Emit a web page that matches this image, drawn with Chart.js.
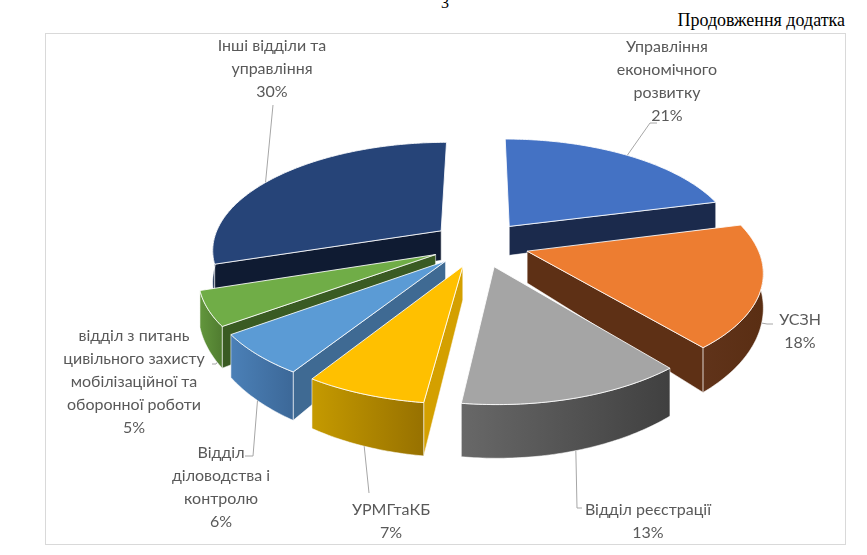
<!DOCTYPE html>
<html>
<head>
<meta charset="utf-8">
<script src="https://cdn.jsdelivr.net/npm/chart.js@4.4.1/dist/chart.umd.min.js"></script>
<style>
    html, body { margin: 0; padding: 0; background: #fff; }
    body { width: 867px; height: 555px; position: relative; overflow: hidden; }
    .page { position: absolute; font-family: "Liberation Serif", "Times New Roman", serif; color: #000; white-space: nowrap; }
    #frame { position: absolute; left: 45px; top: 33px; width: 801px; height: 512px; border: 1px solid #d9d9d9; box-sizing: border-box; }
    #pie { position: absolute; left: 0; top: 0; }
</style>
</head>
<body>
<div class="page" style="left:441px; top:-5px; font-size:16px; line-height:16px;">3</div>
<div class="page" style="right:22px; top:10px; font-size:18px; line-height:20px;">Продовження додатка</div>
<div id="frame"></div>
<canvas id="pie" width="867" height="555"></canvas>
<script>
// data
const categories = [
    'Управління економічного розвитку',
    'УСЗН',
    'Відділ реєстрації',
    'УРМГтаКБ',
    'Відділ діловодства і контролю',
    'відділ з питань цивільного захисту мобілізаційної та оборонної роботи',
    'Інші відділи та управління'
];
const shares = [21, 18, 13, 7, 6, 5, 30];
const labelLines = [
    ['Управління', 'економічного', 'розвитку'],
    ['УСЗН'],
    ['Відділ реєстрації'],
    ['УРМГтаКБ'],
    ['Відділ', 'діловодства і', 'контролю'],
    ['відділ з питань', 'цивільного захисту', 'мобілізаційної та', 'оборонної роботи'],
    ['Інші відділи та', 'управління']
];

// Office palette: top face, outer wall (gradient), radial wall
const topColors = ['#4472C4', '#ED7D31', '#A5A5A5', '#FFC000', '#5B9BD5', '#70AD47', '#264478'];
const wallColors = [
    ['#22386a', '#1b2c50'], ['#60331a', '#5a2e13'], ['#686868', '#404040'], ['#c59a00', '#977100'],
    ['#4b80b7', '#3c6898'], ['#62963c', '#507c30'], ['#1a2f55', '#13223f']
];
const radialColors = ['#1b2a4c', '#5e3015', '#444444', '#d4a000', '#3f6a93', '#3a5b23', '#0f1b32'];

// label layout (centre x, first line y) and leader start points
const labelAt = [[667, 47], [800, 320], [648, 510], [391, 510], [221, 453], [134, 336], [272, 46]];
const leaderFrom = [
    [[657, 123], [650, 123]],
    [[773, 324], [767, 324]],
    [[582, 508], [577, 508]],
    [[369, 493]],
    [[245, 456], [253, 456]],
    [[212, 364], [216, 364]],
    [[273, 105]]
];
const anchorFrac = [0.5, 0.5, 0.5, 0.5, 0.5, 0.15, 0.45];
const lineStep = 23;

// 3D look
const view = { tilt: 0.467, dist: 1400, depth: 31, explode: 49 };

function project(s, p, withDepth) {
    const k = view.dist / (view.dist - p[1]);
    let y = s.cy + view.tilt * p[1] * k;
    if (withDepth) y += view.depth * Math.pow(k, 2.5);
    return [s.cx + p[0] * k, y];
}

function tracePath(ctx, pts) {
    ctx.beginPath();
    pts.forEach((p, i) => i ? ctx.lineTo(p[0], p[1]) : ctx.moveTo(p[0], p[1]));
    ctx.closePath();
}

function rimPoints(s, a0, a1) {
    const n = Math.max(4, Math.ceil((a1 - a0) / 0.015));
    const pts = [];
    for (let j = 0; j <= n; j++) {
        const a = a0 + (a1 - a0) * j / n;
        pts.push([s.ou + Math.cos(a) * s.r, s.ov + Math.sin(a) * s.r]);
    }
    return pts;
}

function sliceGeom(el, i) {
    const { x, y, startAngle, endAngle, outerRadius } =
        el.getProps(['x', 'y', 'startAngle', 'endAngle', 'outerRadius'], true);
    const mid = (startAngle + endAngle) / 2;
    const s = {
        i, cx: x, cy: y, r: outerRadius, startAngle, endAngle,
        ou: Math.cos(mid) * view.explode,
        ov: Math.sin(mid) * view.explode
    };
    s.rim = rimPoints(s, startAngle, endAngle);
    return s;
}

function drawSlice(ctx, s) {
    const c = [s.ou, s.ov];
    ctx.save();
    ctx.lineJoin = 'round';
    ctx.strokeStyle = 'rgba(255,255,255,0.7)';
    ctx.lineWidth = 0.8;

    // radial walls, only the ones facing the viewer
    const walls = [];
    if (-Math.cos(s.startAngle) > 0) walls.push(s.rim[0]);
    if (Math.cos(s.endAngle) > 0) walls.push(s.rim[s.rim.length - 1]);
    walls.forEach(p => {
        tracePath(ctx, [project(s, c), project(s, p), project(s, p, true), project(s, c, true)]);
        ctx.fillStyle = radialColors[s.i];
        ctx.fill();
        ctx.stroke();
    });

    // outer wall, front half only
    const a0 = Math.max(s.startAngle, 0);
    const a1 = Math.min(s.endAngle, Math.PI);
    if (a1 > a0) {
        const front = rimPoints(s, a0, a1);
        const tp = front.map(p => project(s, p));
        const bp = front.map(p => project(s, p, true));
        tracePath(ctx, tp.concat(bp.slice().reverse()));
        const xs = tp.map(p => p[0]);
        const g = ctx.createLinearGradient(Math.min(...xs), 0, Math.max(...xs), 0);
        g.addColorStop(0, wallColors[s.i][0]);
        g.addColorStop(1, wallColors[s.i][1]);
        ctx.fillStyle = g;
        ctx.fill();
        ctx.stroke();
    }

    // top face
    tracePath(ctx, [project(s, c)].concat(s.rim.map(p => project(s, p))));
    ctx.fillStyle = topColors[s.i];
    ctx.fill();
    ctx.lineWidth = 1;
    ctx.strokeStyle = 'rgba(255,255,255,0.85)';
    ctx.stroke();
    ctx.restore();
}

function drawLabels(ctx, slices) {
    ctx.save();
    ctx.font = '16px Lato, "Open Sans", sans-serif';
    ctx.fillStyle = '#595959';
    ctx.textAlign = 'center';
    ctx.textBaseline = 'middle';
    slices.forEach(s => {
        const lines = labelLines[s.i].concat([shares[s.i] + '%']);
        const [lx, ly] = labelAt[s.i];
        lines.forEach((t, j) => ctx.fillText(t, lx, ly + j * lineStep));

        const a = s.startAngle + (s.endAngle - s.startAngle) * anchorFrac[s.i];
        const rp = [s.ou + Math.cos(a) * s.r, s.ov + Math.sin(a) * s.r];
        const end = Math.sin(a) > 0.2 ? project(s, rp, true) : project(s, rp);
        const pts = leaderFrom[s.i].concat([end]);
        ctx.beginPath();
        pts.forEach((p, j) => j ? ctx.lineTo(p[0], p[1]) : ctx.moveTo(p[0], p[1]));
        ctx.strokeStyle = '#a6a6a6';
        ctx.lineWidth = 1;
        ctx.stroke();
    });
    ctx.restore();
}

const pie3d = {
    id: 'pie3d',
    beforeDatasetsDraw(chart) {
        const ctx = chart.ctx;
        const meta = chart.getDatasetMeta(0);
        const slices = meta.data.map((el, i) => sliceGeom(el, i));
        slices.slice().sort((a, b) => a.ov - b.ov).forEach(s => drawSlice(ctx, s));
        drawLabels(ctx, slices);
        return false; // skip the flat default pie
    }
};

new Chart(document.getElementById('pie'), {
    type: 'pie',
    data: {
        labels: categories,
        datasets: [{
            data: shares,
            backgroundColor: topColors,
            borderWidth: 0
        }]
    },
    options: {
        responsive: false,
        animation: false,
        events: [],
        radius: 229,
        layout: { padding: { left: 93, right: 0, top: 0, bottom: 67 } },
        plugins: {
            legend: { display: false },
            tooltip: { enabled: false }
        }
    },
    plugins: [pie3d]
});
</script>
</body>
</html>
